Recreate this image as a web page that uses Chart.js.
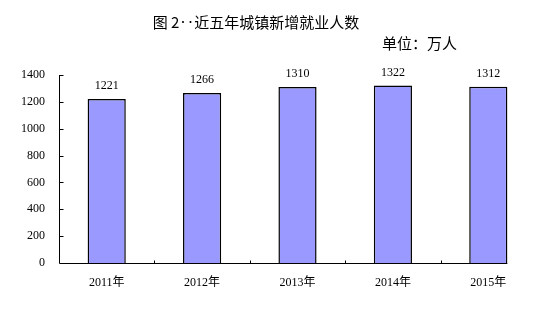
<!DOCTYPE html>
<html>
<head>
<meta charset="utf-8">
<script src="https://cdn.jsdelivr.net/npm/chart.js@4.4.0/dist/chart.umd.min.js"></script>
<style>
  html, body { margin: 0; padding: 0; background: #fff; }
  #wrap { width: 552px; height: 333px; }
</style>
</head>
<body>
<div id="wrap"><canvas id="chart" width="552" height="333"></canvas></div>
<script>
const years = ['2011年', '2012年', '2013年', '2014年', '2015年'];
const newJobs = [1221, 1266, 1310, 1322, 1312];
const yTicks = [0, 200, 400, 600, 800, 1000, 1200, 1400];
const titleText = '图 2‥近五年城镇新增就业人数';
const unitText = '单位：万人';

const numFont = "'Liberation Serif', 'Noto Sans CJK SC', serif";
const cjkFont = "'Noto Sans CJK SC', 'Liberation Serif', sans-serif";

// titles, value labels, inner tick marks and the cut-off x axis line
const decor = {
    id: 'decor',
    afterDraw(chart) {
        const ctx = chart.ctx;
        const area = chart.chartArea;
        const xs = chart.scales.x;
        const ys = chart.scales.y;
        const bars = chart.getDatasetMeta(0).data;
        ctx.save();

        ctx.fillStyle = '#000';
        ctx.textBaseline = 'middle';
        ctx.font = '15px ' + cjkFont;
        ctx.textAlign = 'center';
        ctx.fillText(titleText, 256, 22);
        ctx.textAlign = 'right';
        ctx.fillText(unitText, 457, 43);

        // value labels
        ctx.font = '12px ' + numFont;
        ctx.textAlign = 'center';
        bars.forEach((bar, i) => {
            ctx.fillText(String(newJobs[i]), bar.x, bar.y - 13);
        });

        ctx.strokeStyle = '#000';
        ctx.lineWidth = 1;
        // y axis line + inner ticks
        const x0 = Math.round(area.left) + 0.5;
        ctx.beginPath();
        ctx.moveTo(x0, ys.getPixelForValue(1400));
        ctx.lineTo(x0, ys.getPixelForValue(0));
        yTicks.forEach(v => {
            const y = Math.round(ys.getPixelForValue(v)) + 0.5;
            ctx.moveTo(x0, y);
            ctx.lineTo(x0 + 4, y);
        });
        // x axis line ends at last bar
        const last = bars[bars.length - 1];
        const yb = Math.round(ys.getPixelForValue(0)) + 0.5;
        ctx.moveTo(x0, yb);
        ctx.lineTo(last.x + last.width / 2, yb);
        // category separators
        for (let i = 1; i < years.length; i++) {
            const xt = Math.round((xs.getPixelForValue(i - 1) + xs.getPixelForValue(i)) / 2) + 0.5;
            ctx.moveTo(xt, yb);
            ctx.lineTo(xt, yb - 3);
        }
        ctx.stroke();
        ctx.restore();
    }
};

new Chart(document.getElementById('chart'), {
    type: 'bar',
    data: {
        labels: years,
        datasets: [{
            data: newJobs,
            backgroundColor: '#9999ff',
            borderColor: '#000',
            borderWidth: 1.5,
            borderSkipped: 'bottom',
            barPercentage: 0.4,
            categoryPercentage: 1.0
        }]
    },
    options: {
        responsive: false,
        animation: false,
        devicePixelRatio: 1,
        layout: { padding: { top: 75, right: 16, left: 0, bottom: 0 } },
        plugins: {
            legend: { display: false },
            tooltip: { enabled: false }
        },
        scales: {
            x: {
                grid: { display: false, drawTicks: false },
                border: { display: false },
                ticks: {
                    color: '#000',
                    padding: 13,
                    font: { family: numFont, size: 12 }
                },
                afterFit(scale) { scale.height = 70; }
            },
            y: {
                min: 0,
                max: 1400,
                grid: { display: false, drawTicks: false },
                border: { display: false },
                ticks: {
                    stepSize: 200,
                    color: '#000',
                    padding: 14,
                    font: { family: numFont, size: 12 },
                    callback: v => String(v)
                },
                afterFit(scale) { scale.width = 59; }
            }
        }
    },
    plugins: [decor]
});
</script>
</body>
</html>
